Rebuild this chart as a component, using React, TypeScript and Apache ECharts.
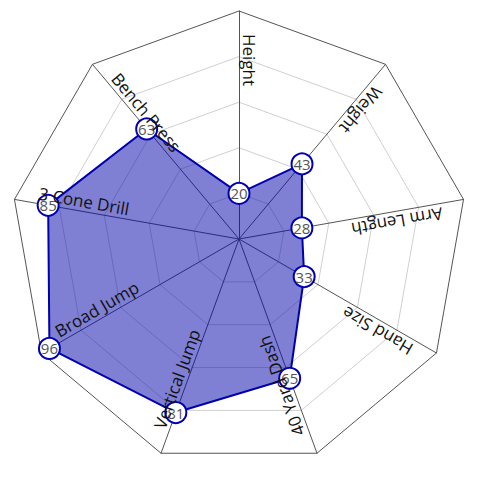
import React, { useEffect, useRef } from "react";
import * as echarts from "echarts";

// Axes in clockwise order starting from the top
const categories = [
  "Height",
  "Weight",
  "Arm Length",
  "Hand Size",
  "40 Yard Dash",
  "Vertical Jump",
  "Broad Jump",
  "3 Cone Drill",
  "Bench Press",
];
const values = [20, 43, 28, 33, 65, 81, 96, 85, 63];
const maxValue = 100;

const W = 478;
const H = 478;
const CX = 239;
const CY = 239;
const R = 228;
const FONT = "'Open Sans', 'Noto Sans', sans-serif";

export default function App() {
  const ref = useRef<HTMLDivElement>(null);
  useEffect(() => {
    if (!ref.current) return;
    const chart = echarts.init(ref.current, undefined, { renderer: "svg" });
    const n = categories.length;
    // ECharts radar places indicators counter-clockwise; reverse the tail so the order is clockwise
    const order = [0, ...Array.from({ length: n - 1 }, (_, k) => n - 1 - k)];
    const indicator = order.map((i) => ({ name: categories[i], max: maxValue, min: 0 }));
    const data = order.map((i) => values[i]);

    const labels = categories.map((name, i) => {
      const theta = (2 * Math.PI * i) / n;
      const s = Math.sin(theta);
      const c = Math.cos(theta);
      const rr = 205;
      const off = 2;
      const rot = Math.atan2(-c, -s);
      // "up" direction of text in screen coords
      const ux = -Math.sin(rot);
      const uy = -Math.cos(rot);
      return {
        type: "text",
        x: CX + rr * s + ux * off,
        y: CY - rr * c + uy * off,
        rotation: rot,
        silent: true,
        z: 10,
        style: {
          text: name,
          fontSize: 17,
          fontFamily: FONT,
          fill: "#111",
          align: "left",
          verticalAlign: "bottom",
        },
      };
    });

    chart.setOption({
      animation: false,
      radar: {
        center: [CX, CY],
        radius: R,
        startAngle: 90,
        shape: "polygon",
        splitNumber: 5,
        indicator,
        axisName: { show: false },
        axisLine: { lineStyle: { color: "#555", width: 1 } },
        splitLine: {
          lineStyle: {
            color: ["#d0d0d0", "#d0d0d0", "#d0d0d0", "#d0d0d0", "#d0d0d0", "#555"],
            width: 1,
          },
        },
        splitArea: { show: false },
      },
      graphic: labels,
      series: [
        {
          type: "radar",
          symbol: "circle",
          symbolSize: 21,
          data: [
            {
              value: data,
              lineStyle: { color: "#0000b0", width: 2 },
              areaStyle: { color: "#0000aa", opacity: 0.5 },
              itemStyle: { color: "#fff", borderColor: "#0000b0", borderWidth: 2 },
              label: {
                show: true,
                position: "inside",
                color: "#555",
                fontSize: 15,
                fontFamily: FONT,
              },
            },
          ],
        },
      ],
    });
    return () => chart.dispose();
  }, []);
  return (
    <div
      ref={ref}
      style={{ position: "fixed", left: 0, top: 0, width: W, height: H, background: "#fff" }}
    />
  );
}
